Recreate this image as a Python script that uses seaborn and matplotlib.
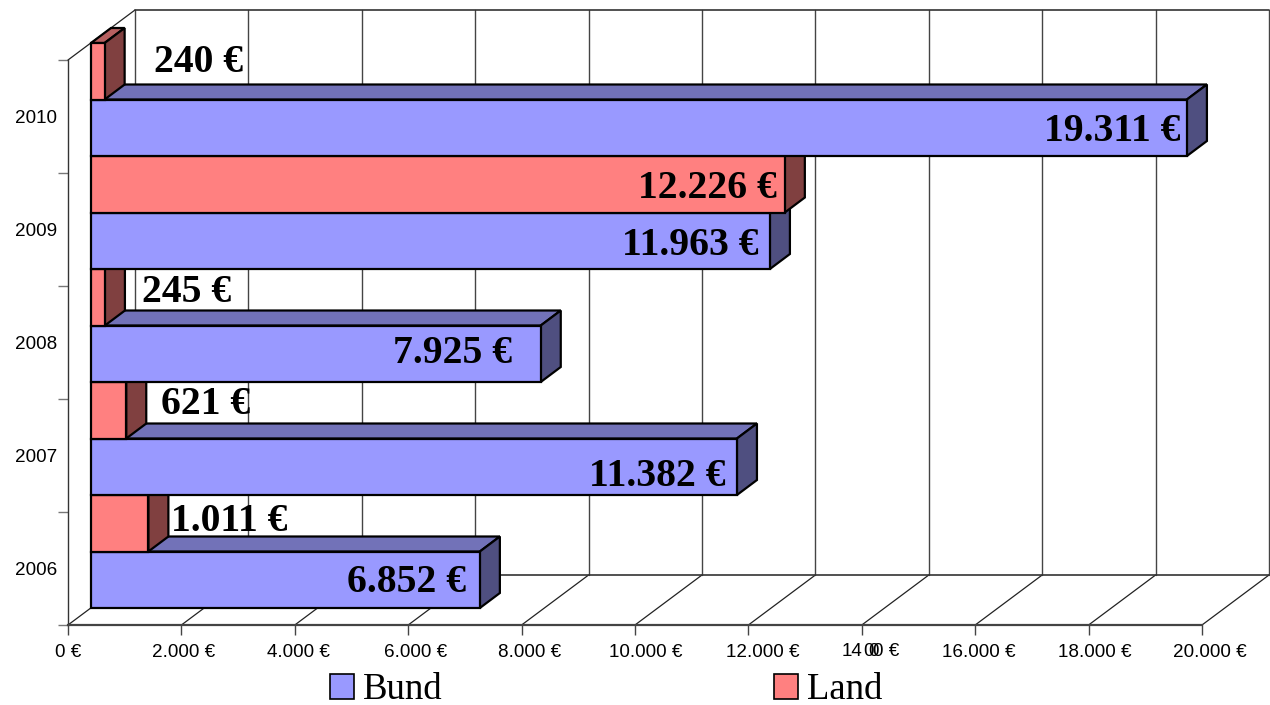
# import libraries
import pandas as pd
import matplotlib.pyplot as plt
import seaborn as sns
from matplotlib.patches import Patch, Polygon
from matplotlib.transforms import ScaledTranslation


# chart data
years = ["2010", "2009", "2008", "2007", "2006"]
land = [240, 12226, 245, 621, 1011]
bund = [19311, 11963, 7925, 11382, 6852]
land_labels = ["240 €", "12.226 €", "245 €", "621 €", "1.011 €"]
bund_labels = ["19.311 €", "11.963 €", "7.925 €", "11.382 €", "6.852 €"]
x_ticks = [0, 2000, 4000, 6000, 8000, 10000, 12000, 14000, 16000, 18000, 20000]
x_tick_labels = ["0 €", "2.000 €", "4.000 €", "6.000 €", "8.000 €", "10.000 €",
                 "12.000 €", "", "16.000 €", "18.000 €", "20.000 €"]

df = pd.DataFrame({
    "year": years * 2,
    "series": ["Land"] * 5 + ["Bund"] * 5,
    "value": land + bund,
})

# figure size in pixels
W, H = 1270, 705
PX = 1134 / 20000   # pixels per euro
ROW = 113.0         # pixels per year


def px_box(left, top, right, bottom):
    return [left / W, 1 - bottom / H, (right - left) / W, (bottom - top) / H]


sns.set_style("white")
plt.rcParams["font.family"] = ["Liberation Sans", "DejaVu Sans"]
plt.rcParams["text.color"] = "black"
plt.rcParams["xtick.labelcolor"] = "black"
plt.rcParams["ytick.labelcolor"] = "black"

fig = plt.figure(figsize=(W / 100, H / 100), dpi=100)

# axis frame at the front of the floor
ax = fig.add_axes(px_box(68, 60, 1202, 625))
ax.set_xlim(0, 20000)
ax.set_ylim(4.5, -0.5)
for side in ["top", "right"]:
    ax.spines[side].set_visible(False)
ax.spines["bottom"].set_color("#444444")
ax.spines["bottom"].set_linewidth(1.6)
ax.spines["left"].set_color("#333333")
ax.spines["left"].set_linewidth(1.0)

ax.set_xticks(x_ticks, x_tick_labels, fontsize=13.6)
ax.set_yticks(range(5), years, fontsize=13.6)
ax.set_yticks([i - 0.5 for i in range(6)], minor=True)
ax.tick_params(axis="x", length=7, width=1, color="#444444", pad=7, bottom=True)
ax.tick_params(axis="y", which="major", length=0, pad=8)
ax.tick_params(axis="y", which="minor", length=7, width=1, color="#777777", left=True)

# the x tick labels drift right of their ticks
label_shift = [0, 2, 4, 7, 8, 11, 14, 0, 4, 6, 8]
for label, shift in zip(ax.get_xticklabels(), label_shift):
    label.set_transform(label.get_transform() + ScaledTranslation(shift / 100, 0, fig.dpi_scale_trans))

# back wall and floor lines
back_x = 67 / PX
back_y = 50 / ROW
for t in x_ticks:
    ax.plot([t, t + back_x], [4.5, 4.5 - back_y], color="#222222", lw=0.9, clip_on=False)
    ax.plot([t + back_x] * 2, [4.5 - back_y, -0.5 - back_y], color="#444444", lw=1.0, clip_on=False)
ax.plot([0, back_x], [-0.5, -0.5 - back_y], color="#222222", lw=0.9, clip_on=False)
ax.plot([back_x, 20000 + back_x], [4.5 - back_y] * 2, color="#333333", lw=1.2, clip_on=False)
ax.plot([back_x, 20000 + back_x], [-0.5 - back_y] * 2, color="#333333", lw=1.2, clip_on=False)

# overlapping tick label at 14.000
for text, pos in [("14", 842), ("0", 863), ("0", 868), ("0 €", 873)]:
    fig.text(pos / W, 1 - 651 / H, text, fontsize=13.6, ha="left", va="center")

# bars sit a little behind the front of the floor
ax_bar = fig.add_axes(px_box(91, 43, 1226, 608))
ax_bar.patch.set_alpha(0)
sns.barplot(
    data=df,
    x="value",
    y="year",
    hue="series",
    order=years,
    hue_order=["Land", "Bund"],
    palette={"Land": "#FF8080", "Bund": "#9999FF"},
    width=1.0,
    saturation=1,
    edgecolor="black",
    linewidth=1.6,
    legend=False,
    ax=ax_bar,
)
ax_bar.set_xlim(0, 20000)
ax_bar.set_ylim(4.5, -0.5)
ax_bar.axis("off")

# top and side faces of each bar, lower rows first so upper rows cover them
depth_x = 20 / PX
depth_y = 15 / ROW
shades = {"#FF8080": ("#B86060", "#804040"), "#9999FF": ("#7272B8", "#4F4F80")}
for bar in ax_bar.patches:
    x1 = bar.get_width()
    y0 = bar.get_y()
    y1 = y0 + bar.get_height()
    key = "#FF8080" if bar.get_y() < round(bar.get_y() + 0.25) else "#9999FF"
    row = 100 - bar.get_y() * 10
    top = Polygon([(0, y0), (x1, y0), (x1 + depth_x, y0 - depth_y), (depth_x, y0 - depth_y)],
                  facecolor=shades[key][0], edgecolor="black", lw=1.6, clip_on=False, zorder=row)
    side = Polygon([(x1, y0), (x1 + depth_x, y0 - depth_y), (x1 + depth_x, y1 - depth_y), (x1, y1)],
                   facecolor=shades[key][1], edgecolor="black", lw=1.6, clip_on=False, zorder=row)
    ax_bar.add_patch(top)
    ax_bar.add_patch(side)
    bar.set_zorder(row + 0.5)
    bar.set_clip_on(False)

# value labels, placed relative to the end of their bar
land_dx = [49, -8, 37, 35, 23]
land_dy = [9, -4, 5, 6, 2]
bund_dx = [-7, -11, -29, -11, -14]
bund_dy = [-4, -5, 0, -10, -3]
for i in range(5):
    ha = "left" if land[i] < 2000 else "right"
    ax_bar.annotate(land_labels[i], (land[i], i - 0.25), xytext=(land_dx[i], land_dy[i]),
                    textcoords="offset pixels", ha=ha, va="center", fontsize=28.5,
                    fontweight="bold", family="Liberation Serif", zorder=200, annotation_clip=False)
    ax_bar.annotate(bund_labels[i], (bund[i], i + 0.25), xytext=(bund_dx[i], bund_dy[i]),
                    textcoords="offset pixels", ha="right", va="center", fontsize=28.5,
                    fontweight="bold", family="Liberation Serif", zorder=200, annotation_clip=False)

# legend under the chart
handles = [Patch(facecolor="#9999FF", edgecolor="black", lw=1.2, label="Bund"),
           Patch(facecolor="#FF8080", edgecolor="black", lw=1.2, label="Land")]
fig.legend(handles=handles, ncol=2, loc="center", bbox_to_anchor=(606.5 / W, 1 - 690 / H),
           frameon=False, prop={"family": "Liberation Serif", "size": 26.5},
           handlelength=0.65, handleheight=0.65, handletextpad=0.25, columnspacing=9.0,
           borderpad=0, borderaxespad=0)

plt.savefig("out.png", dpi=100)
